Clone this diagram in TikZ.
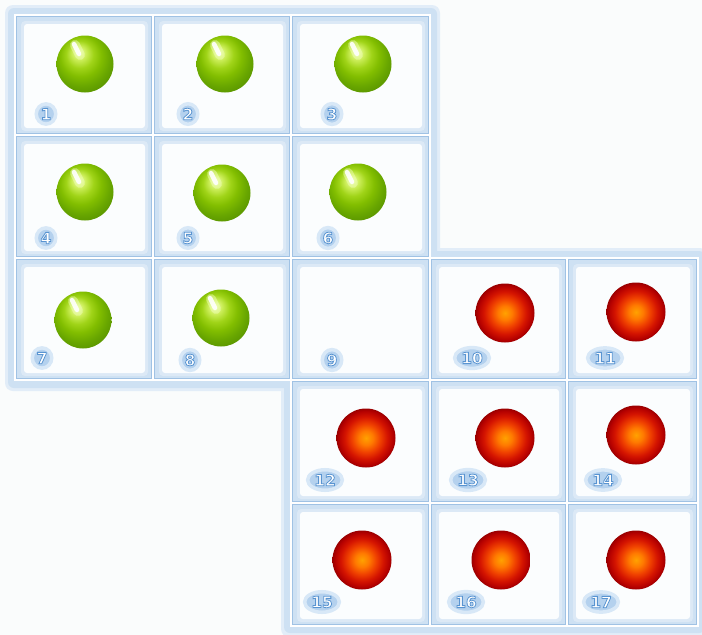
\documentclass[tikz,border=0pt]{standalone}
\usepackage{fontspec}
\usetikzlibrary{shapes.geometric}
\newfontfamily\numfont{DejaVu Sans}
\definecolor{bg}{HTML}{FAFCFC}
\definecolor{band}{HTML}{CEE1F3}
\definecolor{frameglow}{HTML}{E2EDF8}
\definecolor{gridc}{HTML}{A0C2E4}
\definecolor{innerglow}{HTML}{DCE9F6}
\definecolor{cellwhite}{HTML}{FBFDFE}
\definecolor{lblfill}{HTML}{B4D1EE}
\definecolor{lblglow}{HTML}{D8E8F7}
\definecolor{gA}{HTML}{F0FFB8}
\definecolor{gB}{HTML}{CCEE5A}
\definecolor{gC}{HTML}{A0D418}
\definecolor{gD}{HTML}{82BE00}
\definecolor{gE}{HTML}{68A600}
\definecolor{gF}{HTML}{5C9800}
\definecolor{rA}{HTML}{FFA200}
\definecolor{rB}{HTML}{FF7A00}
\definecolor{rC}{HTML}{F04200}
\definecolor{rD}{HTML}{D41400}
\definecolor{rE}{HTML}{B40000}
\definecolor{rF}{HTML}{9A0000}
\pgfdeclareradialshading{greenball}{\pgfpoint{-6bp}{11bp}}{color(0bp)=(gA); color(6bp)=(gB); color(12bp)=(gC); color(18bp)=(gD); color(25bp)=(gE); color(30bp)=(gF); color(50bp)=(gF)}
\pgfdeclareradialshading{redball}{\pgfpoint{0bp}{0bp}}{color(0bp)=(rA); color(6bp)=(rB); color(12bp)=(rC); color(18bp)=(rD); color(23bp)=(rE); color(25bp)=(rF); color(50bp)=(rF)}
\newcommand\olnum[1]{{\color{white}\special{pdf:code 2 Tr 0.35 0.58 0.82 RG 0.8 w}#1\special{pdf:code 0 Tr}}}
\tikzset{
  gridline/.style={draw=gridc, line width=0.9pt},
  gball/.style={circle, minimum size=57pt, inner sep=0pt, shading=greenball},
  rball/.style={circle, minimum size=59pt, inner sep=0pt, shading=redball},
  lbl/.style={ellipse, fill=lblfill, draw=lblglow, line width=3.5pt, inner sep=1.5pt,
    font=\numfont\bfseries\fontsize{15.5}{15.5}\selectfont},
  streak/.style={draw=white, line width=4.5pt, line cap=round, opacity=0.9},
  glowstreak/.style={draw=gA, line width=10pt, line cap=round, opacity=0.5}
}
\begin{document}
\begin{tikzpicture}[x=1pt,y=-1pt]
\useasboundingbox (0,0) rectangle (702,635);
\fill[bg] (0,0) rectangle (702,635);
% block frames
\fill[frameglow, rounded corners=8] (5,5) rectangle (440,391);
\fill[frameglow, rounded corners=8] (281,248) rectangle (708,637);
\fill[band, rounded corners=6] (8,8) rectangle (437,388);
\fill[band, rounded corners=6] (284,251) rectangle (705,633);
% cells
\foreach \c/\r in {0/0,1/0,2/0,0/1,1/1,2/1,0/2,1/2,2/2,3/2,4/2,2/3,3/3,4/3,2/4,3/4,4/4}{
  \pgfmathsetmacro\xa{{15,153,291,430,567,698}[\c]}
  \pgfmathsetmacro\xb{{15,153,291,430,567,698}[\c+1]}
  \pgfmathsetmacro\ya{{15,135,258,380,503,626}[\r]}
  \pgfmathsetmacro\yb{{15,135,258,380,503,626}[\r+1]}
  \draw[white, line width=2pt] (\xa,\ya) rectangle (\xb,\yb);
  \draw[gridline] (\xa+1.5,\ya+1.5) rectangle (\xb-1.5,\yb-1.5);
}
\foreach \c/\r in {0/0,1/0,2/0,0/1,1/1,2/1,0/2,1/2,2/2,3/2,4/2,2/3,3/3,4/3,2/4,3/4,4/4}{
  \pgfmathsetmacro\xa{{15,153,291,430,567,698}[\c]}
  \pgfmathsetmacro\xb{{15,153,291,430,567,698}[\c+1]}
  \pgfmathsetmacro\ya{{15,135,258,380,503,626}[\r]}
  \pgfmathsetmacro\yb{{15,135,258,380,503,626}[\r+1]}
  \fill[innerglow, rounded corners=4] (\xa+6,\ya+6) rectangle (\xb-5,\yb-4);
  \fill[cellwhite, rounded corners=3] (\xa+9,\ya+9) rectangle (\xb-8,\yb-7);
}
% green balls
\foreach \n/\x/\y in {1/85/64,2/225/64,3/363/64,4/85/192,5/222/193,6/358/192,7/83/320,8/221/318}{
  \node[gball] (b\n) at (\x,\y) {};
  \begin{scope}
    \clip (\x,\y) circle (28pt);
    \draw[glowstreak] (\x-10,\y-19) -- (\x-5,\y-9);
  \end{scope}
  \draw[streak] (\x-11,\y-20) -- (\x-6,\y-10);
}
% red balls
\foreach \n/\x/\y in {10/505/313,11/636/312,12/366/438,13/505/438,14/636/435,15/362/560,16/501/560,17/636/560}{
  \node[rball] (b\n) at (\x,\y) {};
}
% labels
\foreach \n/\x/\y in {1/46/114,2/188/114,3/332/114,4/46/238,5/188/238,6/328/238,7/42/358,8/190/360,9/332/360,10/472/358,11/605/358,12/325/480,13/468/480,14/603/480,15/322/602,16/466/602,17/601/602}{
  \node[lbl] (l\n) at (\x,\y) {\olnum{\n}};
}
\end{tikzpicture}
\end{document}
